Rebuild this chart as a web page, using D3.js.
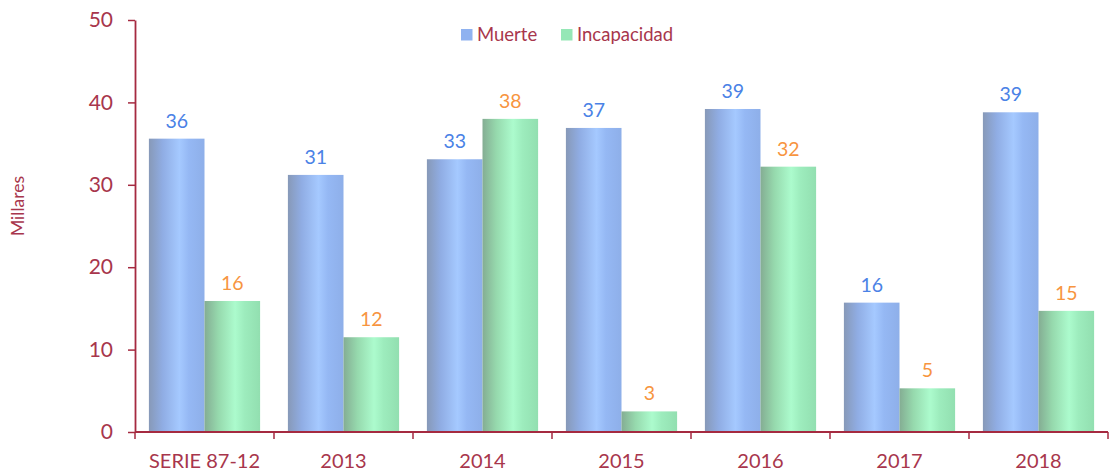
<!DOCTYPE html>
<html>
<head>
<meta charset="utf-8">
<script src="https://cdn.jsdelivr.net/npm/d3@7"></script>
<style>
  html, body { margin: 0; padding: 0; background: #ffffff; }
  svg { display: block; font-family: Lato, "Open Sans", sans-serif; }
</style>
</head>
<body>
<svg id="chart" width="1110" height="472"></svg>
<script>
// Categories and series values (thousands)
const categories = ["SERIE 87-12", "2013", "2014", "2015", "2016", "2017", "2018"];
const seriesNames = ["Muerte", "Incapacidad"];
const muerte = [35.6, 31.2, 33.1, 36.9, 39.2, 15.7, 38.8];
const incapacidad = [15.9, 11.5, 38.0, 2.5, 32.2, 5.3, 14.7];
const yTicks = [0, 10, 20, 30, 40, 50];

const axisColor = "#a52a40";
const textColor = "#a8364c";
const labelColors = { "Muerte": "#4a82e6", "Incapacidad": "#f7953f" };
const legendColors = { "Muerte": "#8fb2f0", "Incapacidad": "#95e7b6" };

const svg = d3.select("#chart");
const margin = { left: 135, right: 1108, top: 20, bottom: 432 };

const x = d3.scaleBand().domain(categories).range([margin.left, margin.right]).paddingInner(0).paddingOuter(0);
const xs = d3.scaleBand().domain(seriesNames).range([0, x.bandwidth()]).paddingInner(0).paddingOuter(0.25);
const y = d3.scaleLinear().domain([0, 50]).range([margin.bottom, margin.top]);

// Cylinder-like horizontal gradients for the bars
const defs = svg.append("defs");
const grads = {
  "Muerte": [["0%", "#8799b8"], ["25%", "#90ade4"], ["55%", "#a5c9ff"], ["72%", "#95b8f4"], ["100%", "#8eafe9"]],
  "Incapacidad": [["0%", "#84ad93"], ["25%", "#96d9ad"], ["55%", "#acfbcd"], ["72%", "#9decbd"], ["100%", "#92dfb0"]]
};
Object.entries(grads).forEach(([name, stops], i) => {
  const g = defs.append("linearGradient").attr("id", "grad" + i)
    .attr("x1", "0%").attr("x2", "100%").attr("y1", "0%").attr("y2", "0%");
  stops.forEach(([o, c]) => g.append("stop").attr("offset", o).attr("stop-color", c));
});

const rows = categories.map((c, i) => ({ cat: c, values: [
  { key: "Muerte", value: muerte[i] },
  { key: "Incapacidad", value: incapacidad[i] }
]}));

// Bars
const groups = svg.append("g").selectAll("g").data(rows).join("g")
  .attr("transform", d => `translate(${x(d.cat)},0)`);

groups.selectAll("rect").data(d => d.values).join("rect")
  .attr("x", d => xs(d.key))
  .attr("y", d => y(d.value))
  .attr("width", xs.bandwidth())
  .attr("height", d => y(0) - y(d.value))
  .attr("fill", d => `url(#grad${seriesNames.indexOf(d.key)})`);

// Value labels
groups.selectAll("text").data(d => d.values).join("text")
  .attr("x", d => xs(d.key) + xs.bandwidth() / 2)
  .attr("y", d => y(d.value) - 11)
  .attr("text-anchor", "middle")
  .attr("font-size", 19.5)
  .attr("fill", d => labelColors[d.key])
  .text(d => Math.round(d.value));

// Y axis
const yAxis = svg.append("g")
  .attr("transform", `translate(${margin.left},0)`)
  .call(d3.axisLeft(y).tickValues(yTicks).tickSize(7).tickPadding(15).tickSizeOuter(0));
yAxis.select(".domain").attr("stroke", axisColor).attr("stroke-width", 1.8);
yAxis.selectAll(".tick line").attr("stroke", axisColor).attr("stroke-width", 1.5);
yAxis.selectAll(".tick text").attr("fill", textColor).attr("font-size", 21)
  .attr("font-family", "Lato, 'Open Sans', sans-serif");

// X axis with ticks at category boundaries
const xAxis = svg.append("g").attr("transform", `translate(0,${margin.bottom})`);
xAxis.append("line")
  .attr("x1", margin.left).attr("x2", margin.right)
  .attr("stroke", axisColor).attr("stroke-width", 1.8);
const boundaries = categories.map(c => x(c)).concat([x(categories[categories.length - 1]) + x.bandwidth()]);
xAxis.selectAll("line.tk").data(boundaries).join("line").attr("class", "tk")
  .attr("x1", d => d).attr("x2", d => d).attr("y1", 0).attr("y2", 7)
  .attr("stroke", axisColor).attr("stroke-width", 1.5);
xAxis.selectAll("text").data(categories).join("text")
  .attr("x", d => x(d) + x.bandwidth() / 2)
  .attr("y", 36)
  .attr("text-anchor", "middle")
  .attr("font-size", 20)
  .attr("fill", textColor)
  .text(d => d);

// Y axis title
svg.append("text")
  .attr("transform", "translate(24,206) rotate(-90)")
  .attr("text-anchor", "middle")
  .attr("font-size", 17.5)
  .attr("fill", textColor)
  .text("Millares");

// Legend
const legend = svg.append("g");
const legendPos = [{ key: "Muerte", x: 461 }, { key: "Incapacidad", x: 561 }];
legendPos.forEach(p => {
  legend.append("rect").attr("x", p.x).attr("y", 29).attr("width", 11.5).attr("height", 11.5)
    .attr("fill", legendColors[p.key]);
  legend.append("text").attr("x", p.x + 16).attr("y", 41)
    .attr("font-size", 18.5).attr("fill", textColor).text(p.key);
});
</script>
</body>
</html>
